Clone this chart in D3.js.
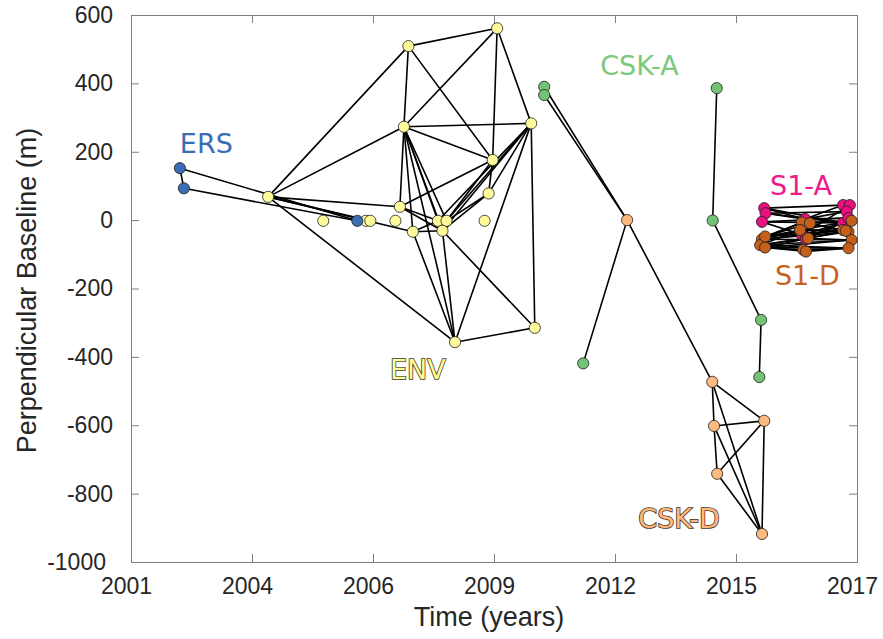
<!DOCTYPE html>
<html>
<head>
<meta charset="utf-8">
<script src="https://cdn.jsdelivr.net/npm/d3@7"></script>
<style>
  html, body { margin: 0; padding: 0; background: #ffffff; }
  svg { display: block; }
</style>
</head>
<body>
<svg id="chart" width="883" height="639"></svg>
<script>
// ---- Acquisition networks: time (decimal years) and perpendicular baseline (m) ----

// ERS
const ersTime  = [2002.59, 2002.68, 2006.55];
const ersBperp = [152, 93, -2];
const ersEdges = [[0, 1], [0, 2], [1, 2]];

// Envisat
const envTime  = [2004.56, 2007.69, 2009.67, 2007.59, 2010.43, 2009.57, 2009.48, 2007.50,
                  2005.79, 2006.74, 2006.84, 2007.40, 2007.79, 2008.35, 2008.54, 2008.45,
                  2009.39, 2008.73, 2010.51];
const envBperp = [68, 509, 561, 273, 283, 176, 78, 39,
                  -2, -2, -2, -2, -34, -2, -2, -31,
                  -2, -357, -315];
const envEdges = [[0, 1], [0, 3], [0, 7], [0, 12], [0, 17], [0, 10],
                  [1, 2], [1, 3], [1, 5],
                  [2, 3], [2, 4], [2, 5],
                  [3, 4], [3, 5], [3, 7], [3, 12], [3, 13], [3, 15], [3, 17], [3, 14],
                  [4, 6], [4, 14], [4, 15], [4, 18], [4, 17], [4, 13],
                  [5, 7], [5, 6], [5, 14],
                  [6, 14], [6, 15],
                  [7, 15], [7, 13],
                  [12, 15], [12, 17], [12, 13],
                  [15, 17], [15, 18],
                  [17, 18]];

// COSMO-SkyMed ascending
const cskaTime  = [2010.72, 2010.72, 2011.59, 2014.57, 2014.48, 2015.56, 2015.52];
const cskaBperp = [390, 366, -419, 386, -1, -292, -459];
const cskaEdges = [[3, 4], [4, 5], [5, 6]];

// COSMO-SkyMed descending
const cskdTime  = [2012.57, 2014.47, 2014.51, 2015.63, 2014.58, 2015.58];
const cskdBperp = [0, -473, -602, -587, -742, -918];
const cskdEdges = [[0, 1], [1, 2], [1, 3], [1, 5], [2, 3], [2, 4], [2, 5],
                   [3, 4], [3, 5], [4, 5]];
// links from the ascending scenes to the first descending scene
const cskLinkEdges = [[0, 0], [1, 0], [2, 0]];

// Sentinel-1 ascending
const s1aTime  = [2015.63, 2015.66, 2015.58, 2016.54, 2016.47, 2016.56,
                  2017.39, 2017.54, 2017.47, 2017.39, 2017.51];
const s1aBperp = [35, 20, -5, 3, -43, -55, 44, 44, 25, -8, 6];
const s1aEdges = [[0, 3], [1, 3], [0, 6], [1, 8], [2, 4], [2, 9], [3, 6], [3, 8],
                  [3, 10], [4, 9], [5, 10], [1, 9], [2, 10], [4, 7], [0, 9], [5, 9]];

// Sentinel-1 descending
const s1dTime  = [2015.58, 2015.54, 2015.65, 2015.65, 2016.47, 2016.65, 2016.43, 2016.61,
                  2016.50, 2016.56, 2017.58, 2017.39, 2017.51, 2017.58, 2017.51, 2017.45];
const s1dBperp = [-56, -73, -80, -48, -7, -9, -29, -53,
                  -87, -92, -2, -29, -34, -58, -82, -31];
const s1dEdges = [[0, 4], [0, 6], [0, 11], [0, 12], [1, 6], [1, 7], [1, 13], [1, 14],
                  [2, 8], [2, 9], [2, 14], [3, 4], [3, 5], [3, 11], [3, 15], [0, 13],
                  [1, 12], [2, 13], [4, 10], [5, 10], [5, 12], [6, 11], [7, 13], [7, 15],
                  [8, 14], [9, 14], [6, 15], [4, 11], [2, 7], [3, 10]];

// Axes
const xDomain = [2001.5, 2017.7];
const xTickValues = [2001.5, 2004.2, 2006.9, 2009.6, 2012.3, 2015.0, 2017.7];
const xTickLabels = ["2001", "2004", "2006", "2009", "2012", "2015", "2017"];
const yDomain = [-1000, 600];
const yTickValues = [-1000, -800, -600, -400, -200, 0, 200, 400, 600];

// ---- Layout ----
const W = 883, H = 639;
const margin = { left: 131, right: 26, top: 15, bottom: 77 };
const x = d3.scaleLinear().domain(xDomain).range([margin.left, W - margin.right]);
const y = d3.scaleLinear().domain(yDomain).range([H - margin.bottom, margin.top]);

const svg = d3.select("#chart");
svg.append("rect").attr("width", W).attr("height", H).attr("fill", "#ffffff");

const axisColor = "#7f7f7f";
const textColor = "#262626";
const tickFont = "Liberation Sans, Arial, Helvetica, sans-serif";

// x axis (bottom with labels, top mirrored ticks)
const gx = svg.append("g")
  .attr("transform", `translate(0,${H - margin.bottom})`)
  .call(d3.axisBottom(x).tickValues(xTickValues)
    .tickFormat((d, i) => xTickLabels[i])
    .tickSizeInner(-8).tickSizeOuter(0).tickPadding(16));
const gxTop = svg.append("g")
  .attr("transform", `translate(0,${margin.top})`)
  .call(d3.axisTop(x).tickValues(xTickValues).tickFormat("")
    .tickSizeInner(-8).tickSizeOuter(0));

// y axis (left with labels, right mirrored ticks)
const gy = svg.append("g")
  .attr("transform", `translate(${margin.left},0)`)
  .call(d3.axisLeft(y).tickValues(yTickValues).tickFormat(d => String(d))
    .tickSizeInner(-8).tickSizeOuter(0).tickPadding(18));
const gyRight = svg.append("g")
  .attr("transform", `translate(${W - margin.right},0)`)
  .call(d3.axisRight(y).tickValues(yTickValues).tickFormat("")
    .tickSizeInner(-8).tickSizeOuter(0));

[gx, gxTop, gy, gyRight].forEach(g => {
  g.select(".domain").remove();
  g.selectAll(".tick line").attr("stroke", axisColor).attr("stroke-width", 1);
  g.selectAll(".tick text")
    .attr("fill", textColor)
    .style("font-family", tickFont)
    .style("font-size", "23px");
});
gx.selectAll(".tick text").attr("dx", "-5");
// lowest label sits a little left so it clears the first year label
gy.selectAll(".tick text").filter(d => d === yDomain[0]).attr("dx", "-7");

// plot box
svg.append("rect")
  .attr("x", margin.left + 0.5).attr("y", margin.top + 0.5)
  .attr("width", W - margin.left - margin.right)
  .attr("height", H - margin.top - margin.bottom)
  .attr("fill", "none").attr("stroke", axisColor).attr("stroke-width", 1);

// axis titles
svg.append("text")
  .attr("x", (margin.left + W - margin.right) / 2 - 5)
  .attr("y", 626)
  .attr("text-anchor", "middle")
  .attr("fill", textColor)
  .style("font-family", tickFont).style("font-size", "27px")
  .text("Time (years)");
svg.append("text")
  .attr("transform", `translate(36,${(margin.top + H - margin.bottom) / 2 + 2}) rotate(-90)`)
  .attr("text-anchor", "middle")
  .attr("fill", textColor)
  .style("font-family", tickFont).style("font-size", "27px")
  .text("Perpendicular Baseline (m)");

// ---- Networks ----
const groups = [
  { name: "ENV",   t: envTime,  b: envBperp,  e: envEdges,  color: "#fffb9a" },
  { name: "ERS",   t: ersTime,  b: ersBperp,  e: ersEdges,  color: "#3a6db4" },
  { name: "CSK-A", t: cskaTime, b: cskaBperp, e: cskaEdges, color: "#72c375" },
  { name: "CSK-D", t: cskdTime, b: cskdBperp, e: cskdEdges, color: "#fdba80" },
  { name: "S1-A",  t: s1aTime,  b: s1aBperp,  e: s1aEdges,  color: "#e8107f" },
  { name: "S1-D",  t: s1dTime,  b: s1dBperp,  e: s1dEdges,  color: "#c45f1c" }
];

const segments = [];
groups.forEach(g => {
  g.e.forEach(([i, j]) => segments.push([g.t[i], g.b[i], g.t[j], g.b[j]]));
});
cskLinkEdges.forEach(([i, j]) =>
  segments.push([cskaTime[i], cskaBperp[i], cskdTime[j], cskdBperp[j]]));

const edgeLayer = svg.append("g");
edgeLayer.selectAll("line").data(segments).join("line")
  .attr("x1", d => x(d[0])).attr("y1", d => y(d[1]))
  .attr("x2", d => x(d[2])).attr("y2", d => y(d[3]))
  .attr("stroke", "#000000").attr("stroke-width", 1.6)
  .attr("stroke-linecap", "round");

const pointLayer = svg.append("g");
groups.forEach(g => {
  pointLayer.append("g").selectAll("circle").data(g.t.map((t, i) => [t, g.b[i]])).join("circle")
    .attr("cx", d => x(d[0])).attr("cy", d => y(d[1]))
    .attr("r", 5.6)
    .attr("fill", g.color)
    .attr("stroke", "#1e1e1e").attr("stroke-width", 0.8);
});

// ---- Sensor names ----
const labelFont = "DejaVu Sans, Verdana, sans-serif";
const names = [
  { text: "ERS",   t: 2002.59, b: 195,  color: "#3a6db4", outline: null },
  { text: "CSK-A", t: 2011.97, b: 425,  color: "#7cc97e", outline: null },
  { text: "S1-A",  t: 2015.76, b: 73,   color: "#ec1a8a", outline: null },
  { text: "S1-D",  t: 2015.87, b: -190, color: "#c8621f", outline: null },
  { text: "ENV",   t: 2007.28, b: -465, color: "#fffb9a", outline: "#3c3a24" },
  { text: "CSK-D", t: 2012.82, b: -900, color: "#fdba80", outline: "#4a3420" }
];
svg.append("g").selectAll("text").data(names).join("text")
  .attr("x", d => x(d.t)).attr("y", d => y(d.b))
  .attr("fill", d => d.color)
  .attr("stroke", d => d.outline || "none")
  .attr("stroke-width", d => d.outline ? 1.6 : 0)
  .attr("paint-order", "stroke")
  .style("font-family", labelFont).style("font-size", "27px")
  .text(d => d.text);
</script>
</body>
</html>
